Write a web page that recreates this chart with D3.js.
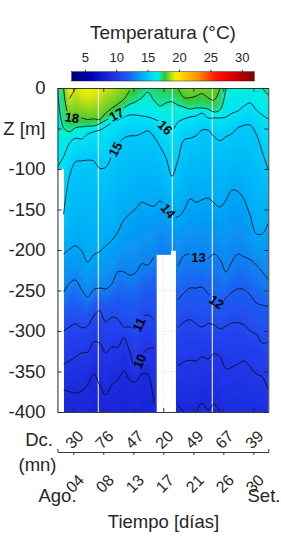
<!doctype html>
<html lang="es">
  <head>
    <meta charset="UTF-8" />
    <title>Temperatura (°C)</title>
    <style>
      body { margin: 0; background: #fff; }
      svg { display: block; font-family: "Liberation Sans", Arial, sans-serif; }
    </style>
  </head>
  <body>
    <svg id="chart" width="281" height="543"></svg>

    <script src="https://cdn.jsdelivr.net/npm/d3@7"></script>
    <script>
      const _ = null;

      // depth (m) of each isotherm at the 36 profiles of the section, null where absent
      const iso19 = [_,_,13,0,_,_,_,_, _,_,_,_,_,_,_,_, _,_,_,_,_,_,_,_, _,_,_,_,_,_,_,_, _,_,_,_];
      const iso18 = [_,0,36,37,37,39,38,39, 31,25,20,14,3,_,_,_, _,_,_,_,0,12,12,10, 7,12,15,0,_,_,_,_, _,_,_,_];
      const iso17 = [0,49,54,49,48,47,47,44, 40,36,32,25,20,17,12,5, 15,22,18.5,17,21,23.5,26,24.7, 24.7,26,29.6,27,0,_,_,_, _,_,0,9];
      const iso16 = [97.5,85,68,62,63,57,54,52, 48,43,39.5,35.8,33.3,33.3,34.6,35.8, 38.3,42,49.4,53,42,38.3,35.8,34.6, 31,37,37,37,35.8,31,28.4,22, 18.5,27.2,33.3,38.3];
      const iso15 = [_,156,109,91,90,89,90,99, 98,84,70,62,59,59,56,53, 60,72,86,109,89,64,62,59, 52,52,60,65,60,56,49,46, 46,57,79,101];
      const iso14 = [_,205,199,195,201,215,206,202, 195,188,178,163,155.5,149,141,144, 146,139.5,148,157,159,150.6,137,141, 138,136,142,147,138,126,128,138, 158,180,180,167];
      const iso13 = [_,252,241,237,249,258,249,247, 248,242,227,227,231,228,217,218.5, 208.6,_,_,_,220,207,205,208.6, 208.6,210,205,212,227,213.6,205,208.6, 212,218.5,227,237];
      const iso12 = [_,_,_,_,_,_,_,_, _,_,_,_,_,_,_,_, _,_,_,_,261.7,253,247,247, 246,254,262,267,259,252,248,249, 255.6,265.4,268,270];
      const iso11 = [_,300,295,291,296,294,281.5,275, 289,283,285,295,295,300,284,280, 286,_,_,_,296,289,286,291, 295,291,292.6,297.5,294,290,290,292.6, 300,304,315,313.6];
      const iso10 = [_,340.7,337,332,327,326,313.6,315, 327,320,320,308.6,326,348,330,322, 321,_,_,_,343,338,336,337, 332,334.6,328,332,347,344.4,340.7,337, 344.4,353,356.8,372.8];
      const iso9  = [_,373,375,376.5,374,366.7,353,366.7, 379,366.7,360.5,349.4,360.5,363,353,354, 391,_,_,_,391.4,400,_,400, 389,397.5,390,400,_,_,_,_, _,_,_,_];

      // temperature (°C) at the surface and at 400 m for each profile
      const surfaceTemp = [17.0,18.0,19.5,19.3,19.5,19.6,19.5,19.3, 19.0,18.8,18.6,18.4,18.2,17.8,17.6,17.15, 17.4,17.5,17.6,17.7,18.0,18.2,18.3,18.35, 18.3,18.2,18.1,18.0,17.0,16.7,16.7,16.65, 16.65,16.7,17.0,17.1];
      const bottomTemp = [12,8.75,8.75,8.75,8.75,8.7,8.6,8.7, 8.8,8.7,8.65,8.6,8.65,8.65,8.6,8.6, 8.9,9.0,9.0,9.0,8.95,9.0,9.05,9.0, 8.95,8.98,8.95,9.0,9.2,9.2,9.2,9.2, 9.2,9.3,9.3,9.5];

      // missing data: profile range and depth (m) where the gap starts
      const gaps = [
        { from: 0, to: 1.08, top: 100 },
        { from: 16.47, to: 18.85, top: 206 },
        { from: 18.85, to: 19.67, top: 201 }
      ];
      const blankProfiles = [6.77, 19.06, 25.7];

      const tickProfiles = [2.62, 7.6, 12.59, 17.57, 22.55, 27.53, 32.51];
      const dcLabels = ["30", "76", "47", "20", "49", "67", "39"];
      const dayLabels = ["04", "08", "13", "17", "21", "26", "30"];
      const depthTicks = [0, 50, 100, 150, 200, 250, 300, 350, 400];
      const depthTickLabels = ["0", "Z [m]", "-100", "-150", "-200", "-250", "-300", "-350", "-400"];
      const colorbarTicks = [5, 10, 15, 20, 25, 30];

      // colour map
      const tempStops = [2.9, 6, 9, 10.5, 12, 13, 14, 15, 16, 16.8, 17.3, 17.8, 18.6, 19.4, 20, 23, 26, 29, 32];
      const tempColors = ["#00007f", "#0000b4", "#1c2ade", "#243eec", "#1e5cf2", "#0e84f2", "#00a8f6", "#00c8fa",
        "#00e4f6", "#08f0da", "#20d870", "#38c430", "#a0d820", "#f0f000", "#ffe000", "#ff9000", "#ff1000", "#d00000", "#800000"];

      // contour labels: level and profile position
      const labelSpots = [[18, 2.4], [17, 9.8], [16, 17.9], [15, 9.6], [14, 18.4], [13, 23.4], [12, 26.4], [11, 13.5], [10, 13.6]];

      const isotherms = [
        { level: 19, z: iso19 }, { level: 18, z: iso18 }, { level: 17, z: iso17 },
        { level: 16, z: iso16 }, { level: 15, z: iso15 }, { level: 14, z: iso14 },
        { level: 13, z: iso13 }, { level: 12, z: iso12 }, { level: 11, z: iso11 },
        { level: 10, z: iso10 }, { level: 9, z: iso9 }
      ];
      const nProf = surfaceTemp.length;
      const maxDepth = 400;
      const axisColor = "#262626";

      const svg = d3.select("#chart");
      const defs = svg.append("defs");

      const x = d3.scaleLinear().domain([0, nProf - 1]).range([57.5, 268.3]);
      const y = d3.scaleLinear().domain([0, maxDepth]).range([88, 412]);
      const color = d3.scaleLinear().domain(tempStops).range(tempColors).interpolate(d3.interpolateRgb).clamp(true);

      // one vertical gradient per profile
      surfaceTemp.forEach((st, i) => {
        const pts = [{ z: 0, t: st }];
        isotherms.forEach(iso => { if (iso.z[i] != null) pts.push({ z: iso.z[i], t: iso.level }); });
        pts.push({ z: maxDepth, t: bottomTemp[i] });
        pts.sort((a, b) => a.z - b.z);
        const g = defs.append("linearGradient").attr("id", "prof" + i)
          .attr("x1", 0).attr("x2", 0).attr("y1", 0).attr("y2", 1);
        pts.forEach((p, k) => {
          if (k > 0) {
            const q = pts[k - 1];
            for (let s = 1; s < 4; s++) {
              const f = s / 4;
              g.append("stop").attr("offset", (q.z + (p.z - q.z) * f) / maxDepth)
                .attr("stop-color", color(q.t + (p.t - q.t) * f));
            }
          }
          g.append("stop").attr("offset", p.z / maxDepth).attr("stop-color", color(p.t));
        });
      });

      defs.append("clipPath").attr("id", "plotclip").append("rect")
        .attr("x", x(0)).attr("y", y(0)).attr("width", x(nProf - 1) - x(0)).attr("height", y(maxDepth) - y(0));
      const blur = defs.append("filter").attr("id", "hblur").attr("filterUnits", "userSpaceOnUse")
        .attr("x", x(-2)).attr("y", y(0)).attr("width", x(nProf + 1) - x(-2)).attr("height", y(maxDepth) - y(0));
      blur.append("feGaussianBlur").attr("stdDeviation", "2.2 0");

      const field = svg.append("g").attr("clip-path", "url(#plotclip)").append("g").attr("filter", "url(#hblur)");
      field.selectAll("rect").data(surfaceTemp).join("rect")
        .attr("x", (d, i) => x(i === 0 ? -1.5 : i - 0.5))
        .attr("width", (d, i) => x(i === nProf - 1 ? i + 1.5 : i + 0.5) - x(i === 0 ? -1.5 : i - 0.5) + 0.6)
        .attr("y", y(0)).attr("height", y(maxDepth) - y(0))
        .attr("shape-rendering", "crispEdges")
        .attr("fill", (d, i) => `url(#prof${i})`);

      // missing profiles
      svg.append("g").selectAll("line").data(blankProfiles).join("line")
        .attr("x1", d => x(d)).attr("x2", d => x(d)).attr("y1", y(0)).attr("y2", y(maxDepth))
        .attr("stroke", "#fff").attr("stroke-width", 1);
      svg.append("g").selectAll("rect").data(gaps).join("rect")
        .attr("x", d => x(d.from)).attr("width", d => x(d.to) - x(d.from))
        .attr("y", d => y(d.top)).attr("height", d => y(maxDepth) - y(d.top))
        .attr("fill", "#fff");

      // faint grid, only visible where data is missing
      const gapClip = defs.append("clipPath").attr("id", "gapclip");
      gapClip.selectAll("rect").data(gaps).join("rect")
        .attr("x", d => x(d.from)).attr("width", d => x(d.to) - x(d.from))
        .attr("y", d => y(d.top)).attr("height", d => y(maxDepth) - y(d.top));
      const grid = svg.append("g").attr("clip-path", "url(#gapclip)")
        .attr("stroke", "#c8c8c8").attr("stroke-width", 0.6).attr("stroke-dasharray", "1,2");
      grid.selectAll(".gx").data(tickProfiles).join("line").attr("class", "gx")
        .attr("x1", d => x(d)).attr("x2", d => x(d)).attr("y1", y(0)).attr("y2", y(maxDepth));
      grid.selectAll(".gy").data(depthTicks).join("line").attr("class", "gy")
        .attr("x1", x(0)).attr("x2", x(nProf - 1)).attr("y1", d => y(d)).attr("y2", d => y(d));

      // contour labels (positions taken from the isotherm data)
      const spots = labelSpots.map(([level, c]) => {
        const z = isotherms.find(d => d.level === level).z;
        const i0 = Math.floor(c), f = c - i0;
        const zc = z[i0] + (z[i0 + 1] - z[i0]) * f;
        const ang = Math.atan2(y(z[i0 + 1]) - y(z[i0]), x(i0 + 1) - x(i0)) * 180 / Math.PI;
        return { level, px: x(c), py: y(zc), ang };
      });

      const mask = defs.append("mask").attr("id", "lblmask").attr("maskUnits", "userSpaceOnUse")
        .attr("x", 0).attr("y", 0).attr("width", 281).attr("height", 543);
      mask.append("rect").attr("width", 281).attr("height", 543).attr("fill", "#fff");
      mask.selectAll(".hole").data(spots).join("rect").attr("class", "hole")
        .attr("x", -9.5).attr("y", -5.5).attr("width", 19).attr("height", 11).attr("fill", "#000")
        .attr("transform", d => `translate(${d.px},${d.py}) rotate(${d.ang})`);

      const line = d3.line()
        .defined(d => d.z != null)
        .x(d => x(d.i)).y(d => y(d.z))
        .curve(d3.curveCatmullRom.alpha(0.5));

      svg.append("g").attr("clip-path", "url(#plotclip)").append("g").attr("mask", "url(#lblmask)")
        .selectAll("path").data(isotherms).join("path")
        .attr("d", iso => line(iso.z.map((z, i) => ({ i, z }))))
        .attr("fill", "none").attr("stroke", "#0a0a0a").attr("stroke-width", 0.9).attr("stroke-opacity", 0.9);

      svg.append("g").selectAll("text").data(spots).join("text")
        .attr("transform", d => `translate(${d.px},${d.py}) rotate(${d.ang})`)
        .attr("text-anchor", "middle").attr("dy", "0.36em")
        .attr("font-size", 13).attr("font-weight", "bold").attr("fill", "#000")
        .text(d => d.level);

      // axes box
      const styleAxis = g => {
        g.selectAll(".domain").attr("stroke", axisColor).attr("stroke-width", 0.9);
        g.selectAll(".tick line").attr("stroke", axisColor).attr("stroke-width", 0.9);
        g.selectAll(".tick text").attr("fill", axisColor).attr("font-size", 18.5)
          .attr("font-family", "Liberation Sans, Arial, sans-serif");
      };
      svg.append("g").attr("transform", `translate(${x(0)},0)`)
        .call(d3.axisLeft(y).tickValues(depthTicks).tickFormat((d, i) => depthTickLabels[i])
          .tickSizeInner(-4).tickSizeOuter(0).tickPadding(12))
        .call(styleAxis);
      svg.append("g").attr("transform", `translate(${x(nProf - 1)},0)`)
        .call(d3.axisRight(y).tickValues(depthTicks).tickFormat("").tickSizeInner(-4).tickSizeOuter(0))
        .call(styleAxis);
      svg.append("g").attr("transform", `translate(0,${y(0)})`)
        .call(d3.axisTop(x).tickValues(tickProfiles).tickFormat("").tickSizeInner(-4).tickSizeOuter(0))
        .call(styleAxis);
      svg.append("g").attr("transform", `translate(0,${y(maxDepth)})`)
        .call(d3.axisBottom(x).tickValues(tickProfiles).tickFormat("").tickSizeInner(-4).tickSizeOuter(0))
        .call(styleAxis);

      // Dc. (mn) row
      const dcY = 452;
      svg.append("g").attr("transform", `translate(0,${dcY})`)
        .call(d3.axisBottom(x).tickValues(tickProfiles).tickFormat("").tickSizeInner(3).tickSizeOuter(-3))
        .call(styleAxis);
      svg.append("g").selectAll("text").data(dcLabels).join("text")
        .attr("transform", (d, i) => `translate(${x(tickProfiles[i]) + 1},${dcY - 12.5}) rotate(-45)`)
        .attr("text-anchor", "middle").attr("dy", "0.35em")
        .attr("font-size", 16).attr("fill", axisColor).text(d => d);
      svg.append("g").selectAll("text").data(dayLabels).join("text")
        .attr("transform", (d, i) => `translate(${x(tickProfiles[i]) + 1.5},${dcY + 31.5}) rotate(-45)`)
        .attr("text-anchor", "middle").attr("dy", "0.35em")
        .attr("font-size", 16).attr("fill", axisColor).text(d => d);

      const addText = (txt, px, py, anchor, size) => svg.append("text")
        .attr("x", px).attr("y", py).attr("text-anchor", anchor)
        .attr("font-size", size).attr("fill", axisColor).text(txt);
      addText("Dc.", 53, 446, "end", 18.5);
      addText("(mn)", 56.5, 471, "end", 18.5);
      addText("Ago.", x(0), 502, "middle", 18.5);
      addText("Set.", 264, 502, "middle", 18.5);
      addText("Tiempo [días]", 163.5, 528, "middle", 18.5);

      // colour bar
      const cb = d3.scaleLinear().domain([2.9, 32]).range([71.7, 254.3]);
      const cbGrad = defs.append("linearGradient").attr("id", "cbgrad");
      tempStops.forEach((t, k) => {
        cbGrad.append("stop").attr("offset", (t - 2.9) / (32 - 2.9)).attr("stop-color", tempColors[k]);
      });
      svg.append("rect").attr("x", cb(2.9)).attr("y", 71.7).attr("width", cb(32) - cb(2.9)).attr("height", 9.3)
        .attr("fill", "url(#cbgrad)").attr("stroke", axisColor).attr("stroke-width", 0.5);
      const cbAxis = svg.append("g").attr("transform", "translate(0,71.7)")
        .call(d3.axisTop(cb).tickValues(colorbarTicks).tickSizeInner(2).tickSizeOuter(0).tickPadding(8));
      cbAxis.select(".domain").remove();
      cbAxis.selectAll(".tick line").attr("stroke", axisColor);
      cbAxis.selectAll(".tick text").attr("fill", axisColor).attr("font-size", 13)
        .attr("font-family", "Liberation Sans, Arial, sans-serif");
      addText("Temperatura (°C)", 163, 39, "middle", 19);
    </script>
  </body>
</html>
